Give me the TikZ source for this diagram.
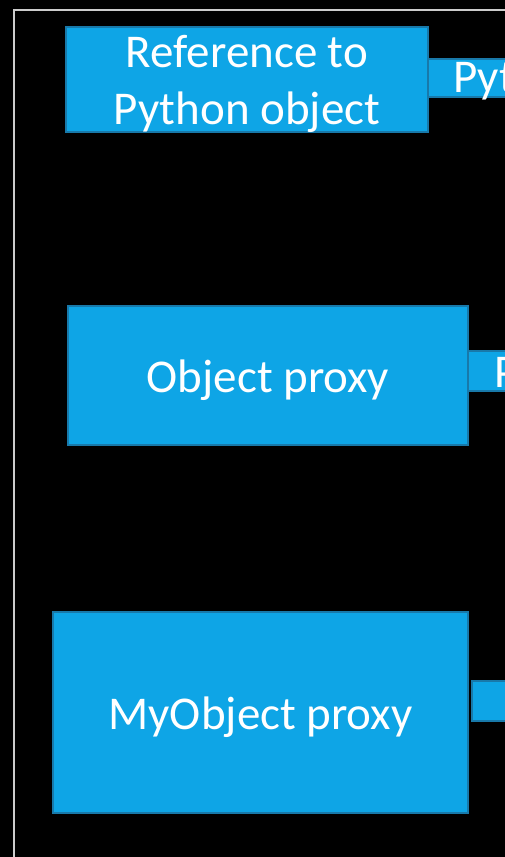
\documentclass[tikz,border=0pt]{standalone}
\usepackage{fontspec}
\setmainfont{Carlito}

\definecolor{layerblue}{HTML}{0EA5E6}
\definecolor{layeredge}{HTML}{1879AA}

\tikzset{
  layer/.style={draw=layeredge, line width=2pt, fill=layerblue, inner sep=0pt},
  layertext/.style={text=white, align=center, inner sep=0pt,
    font=\fontsize{47}{57}\selectfont},
  tab/.style={draw=layeredge, line width=2pt, fill=layerblue},
  tablabel/.style={text=white, inner sep=0pt, font=\fontsize{47}{57}\selectfont}
}

\begin{document}
\begin{tikzpicture}[x=1pt, y=-1pt]
    \useasboundingbox (0,0) rectangle (505,857);
    \fill[black] (0,0) rectangle (505,857);
    \draw[white!80!black, line width=2pt] (13.5,857) -- (13.5,9.5) -- (505,9.5);
    \clip (0,0) rectangle (505,857);

    % tabs sticking out to the right
    \draw[tab] (428,58.5) rectangle (560,96.5);
    \node[tablabel, anchor=base west] (pyt) at (453,92) {Pyt};
    \draw[tab] (468,351) rectangle (560,391);
    \node[tablabel, anchor=base west] (ptab) at (494,387) {P};
    \draw[tab] (472,681) rectangle (560,721);

    % the three layers
    \node[layer, minimum width=362pt, minimum height=105pt] (ref) at (247,79.5) {};
    \node[layertext] (reftext) at ([yshift=-4pt]ref.center) {Reference to\\Python object};
    \node[layer, minimum width=400pt, minimum height=139pt] (objproxy) at (268,375.5) {};
    \node[layertext] (objtext) at ([yshift=-5pt]objproxy.center) {Object proxy};
    \node[layer, minimum width=415pt, minimum height=201pt] (myproxy) at (260.5,712.5) {};
    \node[layertext] (mytext) at ([yshift=-5pt]myproxy.center) {MyObject proxy};
\end{tikzpicture}
\end{document}
